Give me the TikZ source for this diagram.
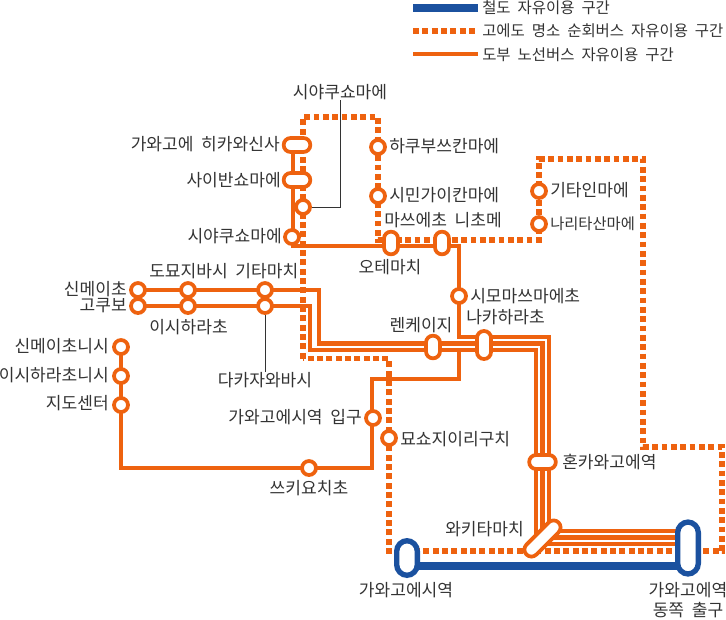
\documentclass[tikz,border=0pt]{standalone}
\usepackage{fontspec}
\setmainfont[WordSpace=2]{Noto Sans CJK KR}
\definecolor{orng}{HTML}{EE620F}
\definecolor{blu}{HTML}{1B519F}
\definecolor{txt}{HTML}{333333}
\pgfdeclarelayer{lines}
\pgfsetlayers{lines,main}
\tikzset{
  x=0.75pt,y=-0.75pt,
  solidroute/.style={draw=orng,line width=3.68pt},
  trunkroute/.style={draw=orng,line width=3.2pt},
  dashroute/.style={draw=orng,line width=3.95pt,dash pattern=on 4.4pt off 2.6pt},
  railroute/.style={draw=blu,line width=6pt},
  leader/.style={draw=txt,line width=0.7pt},
  stn/.style={circle,draw=orng,fill=white,line width=2.8pt,minimum size=10.5pt,inner sep=0pt},
  caph/.style={rectangle,rounded corners=5.2pt,draw=orng,fill=white,line width=2.8pt,minimum width=20pt,minimum height=10.5pt,inner sep=0pt},
  capv/.style={caph,minimum width=10.5pt,minimum height=17pt},
  capb/.style={rectangle,rounded corners=8pt,draw=blu,fill=white,line width=4pt,minimum width=15.5pt,inner sep=0pt},
  lbl/.style={text=txt,font=\fontsize{12.8pt}{15pt}\selectfont,inner sep=0pt},
  lw/.style={lbl,anchor=west},
  le/.style={lbl,anchor=east},
  lc/.style={lbl,anchor=center},
  lk/.style={lw,font=\fontsize{11.6pt}{15pt}\selectfont},
}
\begin{document}
\begin{tikzpicture}
\useasboundingbox (0,0) rectangle (726,619);
% legend
\coordinate (k1a) at (413,8); \coordinate (k1b) at (478,8);
\coordinate (k2a) at (413,31); \coordinate (k2b) at (478,31);
\coordinate (k3a) at (413,54); \coordinate (k3b) at (478,54);
\node[lk] (kt1) at (482,8) {철도 자유이용 구간};
\node[lk] (kt2) at (482,31) {고에도 명소 순회버스 자유이용 구간};
\node[lk] (kt3) at (482,55) {도부 노선버스 자유이용 구간};
% stations
\node[caph] (hikawa) at (297,145) {};
\node[caph] (saiban) at (297,180) {};
\node[stn] (shiya2) at (303,207) {};
\node[stn] (shiya1) at (292,237) {};
\node[stn] (hakubu) at (378,147) {};
\node[stn] (shimin) at (378,196) {};
\node[capv] (otemachi) at (391,243) {};
\node[capv] (matsue) at (442,243) {};
\node[stn] (kitain) at (539,191) {};
\node[stn] (narita) at (539,224) {};
\node[stn] (shimo) at (459,296) {};
\node[capv] (renkei) at (433,347) {};
\node[capv,minimum height=21pt] (nakahara) at (484,345) {};
\node[caph] (honka) at (542.5,462) {};
\node[caph,rotate=45,minimum width=34pt] (wakita) at (542.5,538.5) {};
\node[stn] (shinmei) at (138,290) {};
\node[stn] (domyoji) at (188,290) {};
\node[stn] (kitamachi) at (265,290) {};
\node[stn] (kokubo) at (138,306) {};
\node[stn] (ishihara) at (188,306) {};
\node[stn] (takazawa) at (265,306) {};
\node[stn] (shinmein) at (121,347) {};
\node[stn] (ishin) at (121,376) {};
\node[stn] (chizu) at (121,405) {};
\node[stn] (iriguchi) at (373,418) {};
\node[stn] (myoshoji) at (389,438) {};
\node[stn] (tsuki) at (309,468) {};
\node[capb,minimum height=26pt] (kawas) at (407,558) {};
\node[capb,minimum height=39pt] (kawae) at (688,548) {};
% labels
\node[lc] (t1) at (340,92) {시야쿠쇼마에};
\node[le] at (280,144) {가와고에 히카와신사};
\node[le] at (281,180) {사이반쇼마에};
\node[le] at (282,236) {시야쿠쇼마에};
\node[lw] at (389,146) {하쿠부쓰칸마에};
\node[lw] at (389,195) {시민가이칸마에};
\node[lw] at (384,220) {마쓰에초 니초메};
\node[lc] at (390,267) {오테마치};
\node[lw] at (550,190) {기타인마에};
\node[lw,font=\fontsize{11.5pt}{15pt}\selectfont] at (550,224) {나리타산마에};
\node[lw] at (470,296) {시모마쓰마에초};
\node[lw] at (466,317) {나카하라초};
\node[lc] at (421,325) {렌케이지};
\node[le] at (127,289) {신메이초};
\node[le] at (127,306) {고쿠보};
\node[lw] at (149,271) {도묘지바시 기타마치};
\node[lw] at (149,327) {이시하라초};
\node[le] at (109,346) {신메이초니시};
\node[le] at (109,375) {이시하라초니시};
\node[le] at (109,403) {지도센터};
\node[lc] (t2) at (265,380) {다카자와바시};
\node[le] at (362,417) {가와고에시역 입구};
\node[lw] at (400,439) {묘쇼지이리구치};
\node[lc] at (309,488) {쓰키요치초};
\node[lw] at (562,462) {혼카와고에역};
\node[lw] at (445,529) {와키타마치};
\node[lc] at (406,590) {가와고에시역};
\node[lc] at (688,590) {가와고에역};
\node[lc] at (688,610) {동쪽 출구};
% leaders
\draw[leader] (t1.south) |- (shiya2.east);
\draw[leader] (takazawa.south) -- (t2.north);
\begin{pgfonlayer}{lines}
\draw[railroute] (k1a) -- (k1b);
\draw[dashroute] (k2a) -- (k2b);
\draw[solidroute] (k3a) -- (k3b);
% Koedo bus
\draw[dashroute] (303,358.5) -- (303,117) -- (378,117) -- (hakubu.center) -- (shimin.center) -- (378,240) -- (539,240) -- (narita.center) -- (kitain.center) -- (539,159) -- (643,159) -- (643,447) -- (722,447) -- (722,551) -- (389,551) -- (myoshoji.center) -- (389,358.5) -- cycle;
% Tobu bus
\draw[solidroute] (293,145) -- (293,246) -- (459,246) -- (459,339);
\draw[trunkroute] (457,337) -- (549,337) -- (549,531) -- (677,531);
\draw[solidroute] (shinmei.center) -- (319,290) -- (319,346);
\draw[trunkroute] (317,343.5) -- (542.5,343.5) -- (542.5,537.5) -- (677,537.5);
\draw[solidroute] (kokubo.center) -- (310,306) -- (310,352);
\draw[trunkroute] (308,350) -- (536,350) -- (536,544) -- (677,544);
\draw[solidroute] (shinmein.center) -- (121,468) -- (372,468) -- (372,379) -- (459,379) -- (459,350);
\draw[railroute] (kawas.center) ++(0,8) -- (688,566);
\end{pgfonlayer}
\end{tikzpicture}
\end{document}
